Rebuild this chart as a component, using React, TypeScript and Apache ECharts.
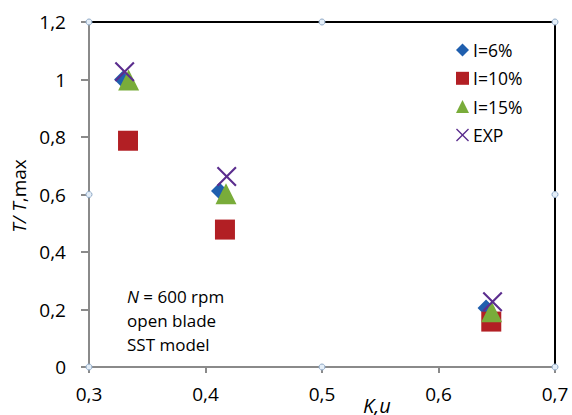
import React, { useEffect, useRef } from "react";
import * as echarts from "echarts";

// Torque ratio T/T,max against K,u for three inlet turbulence intensities and the experiment
const seriesNames = ["I=6%", "I=10%", "I=15%", "EXP"];
const xI6 = [0.3288, 0.412, 0.6408];
const yI6 = [1.0, 0.612, 0.205];
const xI10 = [0.3335, 0.4167, 0.6453];
const yI10 = [0.787, 0.478, 0.158];
const xI15 = [0.334, 0.4176, 0.6456];
const yI15 = [0.998, 0.603, 0.192];
const xExp = [0.3306, 0.4182, 0.6464];
const yExp = [1.027, 0.663, 0.227];

// plot-area handles on the frame
const handleX = [0.3, 0.5, 0.7, 0.3, 0.7, 0.3, 0.5, 0.7];
const handleY = [0, 0, 0, 0.6, 0.6, 1.2, 1.2, 1.2];

const FONT = "'Open Sans', 'Liberation Sans', sans-serif";
const crossPath =
  "path://M0,1.5L1.5,0L10,8.5L18.5,0L20,1.5L11.5,10L20,18.5L18.5,20L10,11.5L1.5,20L0,18.5L8.5,10Z";

const pairs = (xs: number[], ys: number[]) => xs.map((x, i) => [x, ys[i]]);
const comma = (v: number) => String(Math.round(v * 10) / 10).replace(".", ",");

export default function App() {
  const ref = useRef<HTMLDivElement>(null);

  useEffect(() => {
    document.body.style.margin = "0";
    if (!ref.current) return;
    const chart = echarts.init(ref.current, undefined, { renderer: "svg" });
    chart.setOption({
      animation: false,
      backgroundColor: "#ffffff",
      grid: {
        left: 89,
        right: 17,
        top: 22,
        bottom: 48,
        show: true,
        borderColor: "#000000",
        borderWidth: 2,
        backgroundColor: "transparent",
      },
      legend: {
        orient: "vertical",
        left: 451,
        top: 35,
        itemWidth: 13,
        itemHeight: 13,
        itemGap: 8.3,
        data: seriesNames,
        textStyle: { fontFamily: FONT, fontSize: 17.5, color: "#000", lineHeight: 20, padding: [0, 0, 0, -1] },
      },
      xAxis: {
        type: "value",
        min: 0.3,
        max: 0.7,
        interval: 0.1,
        axisLine: { show: true, onZero: false, lineStyle: { color: "#8a8a8a", width: 2 } },
        axisTick: { show: true, inside: false, length: 6, lineStyle: { color: "#8a8a8a", width: 2 } },
        splitLine: { show: false },
        axisLabel: {
          margin: 17,
          fontFamily: FONT,
          fontSize: 19,
          color: "#000",
          formatter: comma,
        },
      },
      yAxis: {
        type: "value",
        min: 0,
        max: 1.2,
        interval: 0.2,
        axisLine: { show: true, onZero: false, lineStyle: { color: "#8a8a8a", width: 2 } },
        axisTick: { show: true, inside: false, length: 8, lineStyle: { color: "#8a8a8a", width: 2 } },
        splitLine: { show: false },
        axisLabel: {
          margin: 23,
          fontFamily: FONT,
          fontSize: 19,
          color: "#000",
          formatter: comma,
        },
      },
      graphic: [
        {
          type: "text",
          x: 19,
          y: 196,
          rotation: Math.PI / 2,
          style: {
            text: "{i|T/ T}{n|,max}",
            align: "center",
            verticalAlign: "middle",
            fill: "#000",
            rich: {
              i: { fontFamily: FONT, fontSize: 19, fontStyle: "italic", fill: "#000" },
              n: { fontFamily: FONT, fontSize: 19, fill: "#000" },
            },
          },
        },
        {
          type: "text",
          left: 363,
          top: 395,
          style: {
            text: "K,u",
            fontFamily: FONT,
            fontSize: 20,
            fontStyle: "italic",
            fill: "#000",
          },
        },
        {
          type: "text",
          left: 127,
          top: 284,
          style: {
            text: "{i|N} = 600 rpm\nopen blade\nSST model",
            fontFamily: FONT,
            fontSize: 17,
            lineHeight: 24,
            fill: "#000",
            rich: {
              i: { fontFamily: FONT, fontSize: 17, fontStyle: "italic", lineHeight: 24, fill: "#000" },
            },
          },
        },
      ],
      series: [
        {
          name: "I=6%",
          type: "scatter",
          symbol: "diamond",
          symbolSize: [17, 17],
          itemStyle: { color: "#1f5fae", opacity: 1 },
          data: pairs(xI6, yI6),
          z: 2,
        },
        {
          name: "I=10%",
          type: "scatter",
          symbol: "rect",
          symbolSize: 20,
          itemStyle: { color: "#b21f24", opacity: 1 },
          data: pairs(xI10, yI10),
          z: 3,
        },
        {
          name: "I=15%",
          type: "scatter",
          symbol: "triangle",
          symbolSize: 21,
          itemStyle: { color: "#79ac3a", opacity: 1 },
          data: pairs(xI15, yI15),
          z: 4,
        },
        {
          name: "EXP",
          type: "scatter",
          symbol: crossPath,
          symbolSize: 20,
          itemStyle: { color: "#5b2d8e", opacity: 1 },
          data: pairs(xExp, yExp),
          z: 5,
        },
        {
          name: "handles",
          type: "scatter",
          symbol: "circle",
          symbolSize: 6,
          silent: true,
          itemStyle: { color: "#e4eef8", borderColor: "#8fa9c6", borderWidth: 1, opacity: 1 },
          data: pairs(handleX, handleY),
          z: 10,
        },
      ],
    });
    return () => chart.dispose();
  }, []);

  return <div ref={ref} style={{ width: 572, height: 415 }} />;
}
